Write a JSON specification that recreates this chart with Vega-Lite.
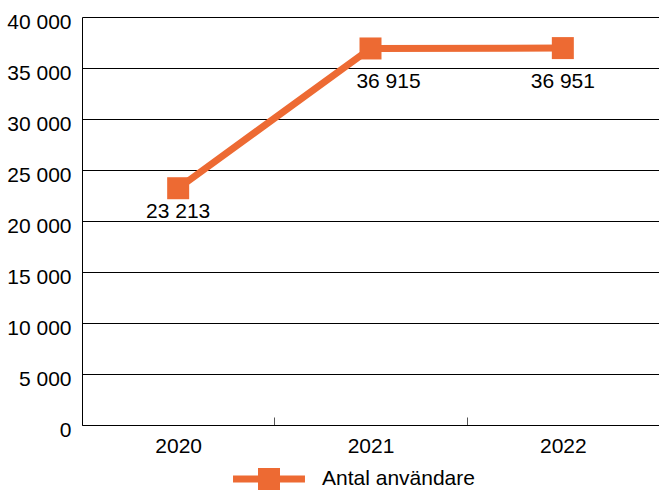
{
  "$schema": "https://vega.github.io/schema/vega-lite/v6.json",
  "width": 577,
  "height": 408,
  "autosize": "none",
  "padding": {"left": 82, "top": 17, "right": 0, "bottom": 65},
  "background": "white",
  "config": {
    "locale": {"number": {"decimal": ",", "thousands": " ", "grouping": [3], "currency": ["", " kr"]}},
    "font": "Liberation Sans",
    "view": {"stroke": null}
  },
  "data": {"values": [
    {"year": "2020", "users": 23213},
    {"year": "2021", "users": 36915},
    {"year": "2022", "users": 36951}
  ]},
  "encoding": {
    "x": {
      "field": "year", "type": "ordinal",
      "scale": {"type": "band", "paddingInner": 0, "paddingOuter": 0},
      "axis": {
        "title": null, "domain": true, "domainColor": "black", "domainWidth": 1,
        "tickBand": "extent", "ticks": true, "tickSize": -8, "tickColor": "#555", "tickWidth": 1,
        "labelFontSize": 21, "labelColor": "black", "labelAngle": 0,
        "labelPadding": 35, "labelBaseline": "alphabetic", "grid": false
      }
    },
    "y": {
      "field": "users", "type": "quantitative",
      "scale": {"domain": [0, 40000], "nice": false},
      "axis": {
        "title": null, "values": [0, 5000, 10000, 15000, 20000, 25000, 30000, 35000, 40000],
        "grid": true, "gridColor": "black", "gridWidth": 1, "gridOpacity": 1,
        "domain": true, "domainColor": "black", "ticks": false,
        "labelPadding": 11, "labelFontSize": 21, "labelColor": "black", "labelOffset": 5,
        "format": ",.0f"
      }
    }
  },
  "layer": [
    {"mark": {"type": "line", "color": "#ED6A33", "strokeWidth": 7}},
    {
      "mark": {"type": "point", "shape": "square", "filled": true, "size": 484, "opacity": 1},
      "encoding": {
        "color": {
          "datum": "Antal användare",
          "scale": {"range": ["#ED6A33"]},
          "legend": {
            "title": null, "orient": "none", "legendX": 176, "legendY": 451,
            "symbolType": "M-3.27,-0.32H3.27V0.32H-3.27Z M-1,-1H1V1H-1Z",
            "symbolSize": 484, "symbolStrokeWidth": 0, "symbolOpacity": 1,
            "labelFontSize": 21, "labelColor": "black", "labelOffset": 42, "padding": 0
          }
        }
      }
    },
    {
      "mark": {
        "type": "text", "fontSize": 21, "color": "black", "baseline": "alphabetic",
        "dx": {"expr": "datum.year == '2021' ? 18 : 0"},
        "dy": {"expr": "datum.year == '2020' ? 30 : 40"}
      },
      "encoding": {"text": {"field": "users", "type": "quantitative", "format": ",.0f"}}
    }
  ]
}
